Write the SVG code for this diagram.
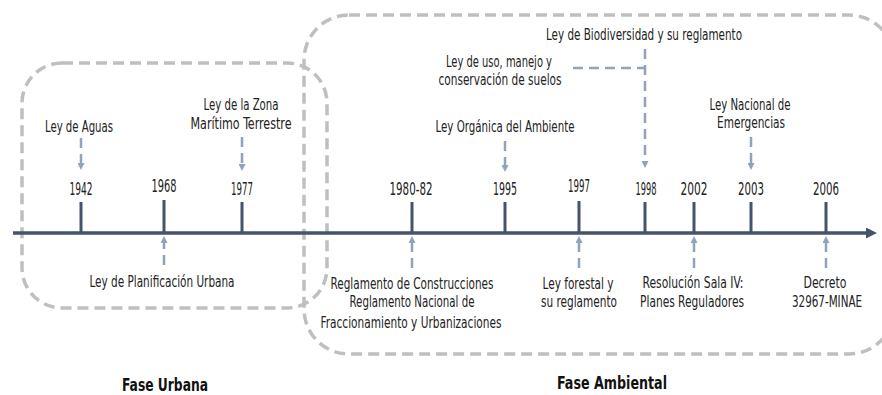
<svg xmlns="http://www.w3.org/2000/svg" width="882" height="395" viewBox="0 0 882 395">
<style>
text{font-family:"DejaVu Sans Condensed","DejaVu Sans",sans-serif;font-stretch:condensed;fill:#222;text-anchor:middle}
.lbl{font-size:15px}
.yr{font-size:18px}
.ttl{font-size:17px;font-weight:bold;fill:#111}
.phase{fill:none;stroke:#bfbfbf;stroke-width:3.5;stroke-dasharray:11 6}
.tick{stroke:#44546a;stroke-width:3}
.con{fill:none;stroke:#8fa3bd;stroke-width:2.5;stroke-dasharray:10 6}
.arr{marker-end:url(#ah)}
</style>
<defs>
<marker id="ah" viewBox="0 0 8 8" refX="0" refY="4" markerWidth="7" markerHeight="7" markerUnits="userSpaceOnUse" orient="auto">
<path d="M0,0 L8,4 L0,8 z" fill="#8fa3bd"/>
</marker>
<marker id="axh" viewBox="0 0 10 10" refX="0" refY="5" markerWidth="12" markerHeight="11" markerUnits="userSpaceOnUse" orient="auto">
<path d="M0,0 L10,5 L0,10 z" fill="#44546a"/>
</marker>
</defs>
<g id="phase-urbana">
<rect class="phase" x="22" y="63" width="305" height="245" rx="40"/>
<text class="ttl" x="165" y="391" textLength="86" lengthAdjust="spacingAndGlyphs">Fase Urbana</text>
</g>
<g id="phase-ambiental">
<rect class="phase" x="304" y="15" width="590" height="339" rx="45"/>
<text class="ttl" x="612" y="389" textLength="110" lengthAdjust="spacingAndGlyphs">Fase  Ambiental</text>
</g>
<g id="axis">
<line x1="13" y1="233" x2="866" y2="233" stroke="#44546a" stroke-width="3.5" marker-end="url(#axh)"/>
</g>
<g id="y1942"><line class="tick" x1="81" y1="202" x2="81" y2="233"/><text class="yr" x="81" y="195" textLength="23" lengthAdjust="spacingAndGlyphs">1942</text></g>
<g id="y1968"><line class="tick" x1="164" y1="200" x2="164" y2="233"/><text class="yr" x="164" y="192" textLength="25" lengthAdjust="spacingAndGlyphs">1968</text></g>
<g id="y1977"><line class="tick" x1="242" y1="202" x2="242" y2="233"/><text class="yr" x="242" y="195" textLength="22" lengthAdjust="spacingAndGlyphs">1977</text></g>
<g id="y1980"><line class="tick" x1="412" y1="202" x2="412" y2="233"/><text class="yr" x="411" y="195" textLength="43" lengthAdjust="spacingAndGlyphs">1980-82</text></g>
<g id="y1995"><line class="tick" x1="505" y1="202" x2="505" y2="233"/><text class="yr" x="505" y="195" textLength="24" lengthAdjust="spacingAndGlyphs">1995</text></g>
<g id="y1997"><line class="tick" x1="579" y1="201" x2="579" y2="233"/><text class="yr" x="579" y="192" textLength="22" lengthAdjust="spacingAndGlyphs">1997</text></g>
<g id="y1998"><line class="tick" x1="645" y1="202" x2="645" y2="233"/><text class="yr" x="646" y="195" textLength="21" lengthAdjust="spacingAndGlyphs">1998</text></g>
<g id="y2002"><line class="tick" x1="694" y1="202" x2="694" y2="233"/><text class="yr" x="694" y="195" textLength="27" lengthAdjust="spacingAndGlyphs">2002</text></g>
<g id="y2003"><line class="tick" x1="751" y1="202" x2="751" y2="233"/><text class="yr" x="751" y="195" textLength="26" lengthAdjust="spacingAndGlyphs">2003</text></g>
<g id="y2006"><line class="tick" x1="826" y1="202" x2="826" y2="233"/><text class="yr" x="826" y="195" textLength="26" lengthAdjust="spacingAndGlyphs">2006</text></g>
<g id="n-aguas"><text class="lbl" x="79" y="132" textLength="68" lengthAdjust="spacingAndGlyphs">Ley de Aguas</text></g>
<g id="n-zona"><text class="lbl" x="241" y="110" textLength="75" lengthAdjust="spacingAndGlyphs">Ley de la Zona</text><text class="lbl" x="241" y="129" textLength="101" lengthAdjust="spacingAndGlyphs">Marítimo Terrestre</text></g>
<g id="n-planificacion"><text class="lbl" x="162" y="287" textLength="145" lengthAdjust="spacingAndGlyphs">Ley de Planificación Urbana</text></g>
<g id="n-biodiversidad"><text class="lbl" x="644" y="40" textLength="196" lengthAdjust="spacingAndGlyphs">Ley de Biodiversidad y su reglamento</text></g>
<g id="n-suelos"><text class="lbl" x="499" y="67" textLength="106" lengthAdjust="spacingAndGlyphs">Ley de uso, manejo y</text><text class="lbl" x="500" y="85" textLength="123" lengthAdjust="spacingAndGlyphs">conservación de suelos</text></g>
<g id="n-organica"><text class="lbl" x="505" y="132" textLength="139" lengthAdjust="spacingAndGlyphs">Ley Orgánica del Ambiente</text></g>
<g id="n-emergencias"><text class="lbl" x="750" y="110" textLength="81" lengthAdjust="spacingAndGlyphs">Ley Nacional de</text><text class="lbl" x="751" y="128" textLength="68" lengthAdjust="spacingAndGlyphs">Emergencias</text></g>
<g id="n-reglamento"><text class="lbl" x="412" y="289" textLength="163" lengthAdjust="spacingAndGlyphs">Reglamento de Construcciones</text><text class="lbl" x="412" y="307" textLength="125" lengthAdjust="spacingAndGlyphs">Reglamento Nacional de</text><text class="lbl" x="411" y="328" textLength="181" lengthAdjust="spacingAndGlyphs">Fraccionamiento y Urbanizaciones</text></g>
<g id="n-forestal"><text class="lbl" x="578" y="289" textLength="71" lengthAdjust="spacingAndGlyphs">Ley forestal y</text><text class="lbl" x="579" y="307" textLength="76" lengthAdjust="spacingAndGlyphs">su reglamento</text></g>
<g id="n-sala"><text class="lbl" x="693" y="288" textLength="101" lengthAdjust="spacingAndGlyphs">Resolución Sala IV:</text><text class="lbl" x="692" y="307" textLength="104" lengthAdjust="spacingAndGlyphs">Planes Reguladores</text></g>
<g id="n-decreto"><text class="lbl" x="825" y="288" textLength="43" lengthAdjust="spacingAndGlyphs">Decreto</text><text class="lbl" x="827" y="307" textLength="70" lengthAdjust="spacingAndGlyphs">32967-MINAE</text></g>
<g id="connectors">
<line class="con arr" x1="81" y1="138" x2="81" y2="163"/>
<line class="con arr" x1="242" y1="137" x2="242" y2="164"/>
<line class="con arr" x1="505" y1="141" x2="505" y2="165"/>
<line class="con arr" x1="751" y1="137" x2="751" y2="163"/>
<line class="con" x1="573" y1="68" x2="645" y2="68"/>
<line class="con arr" x1="645" y1="49" x2="645" y2="161"/>
<line class="con arr" x1="164" y1="265" x2="164" y2="243"/>
<line class="con arr" x1="412" y1="268" x2="412" y2="243"/>
<line class="con arr" x1="579" y1="268" x2="579" y2="243"/>
<line class="con arr" x1="694" y1="268" x2="694" y2="243"/>
<line class="con arr" x1="826" y1="268" x2="826" y2="243"/>
</g>
</svg>
